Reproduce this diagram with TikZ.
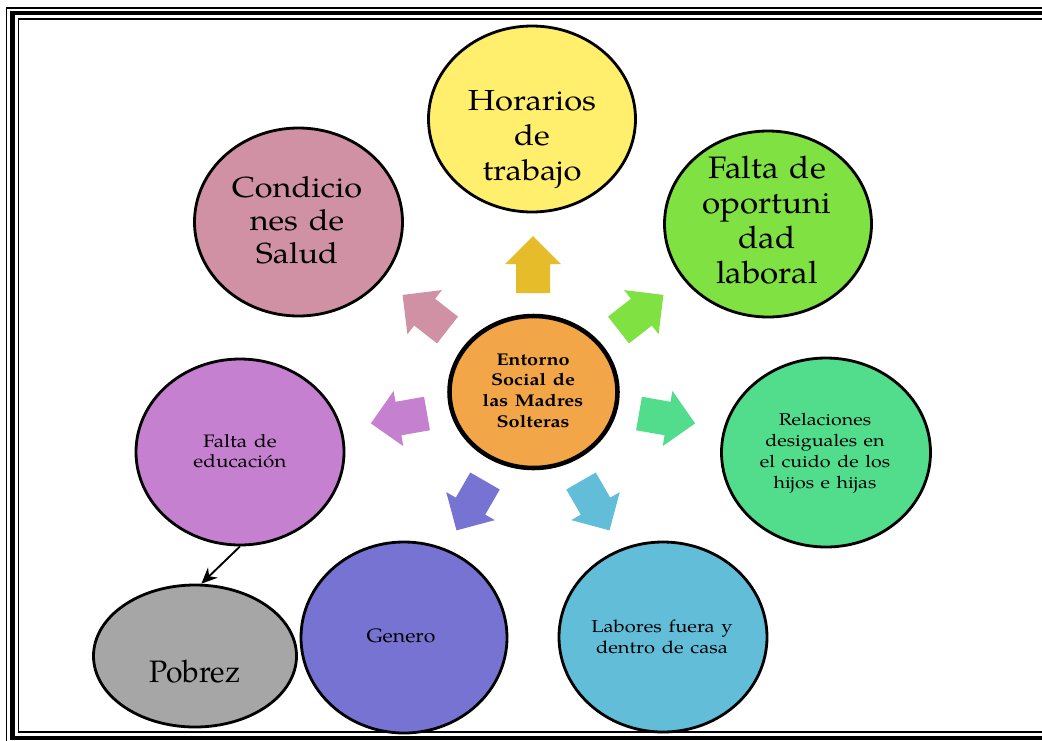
\documentclass[tikz,border=0pt]{standalone}
\usepackage{fontspec}
\setmainfont{TeX Gyre Pagella}
\usetikzlibrary{shapes.geometric,arrows.meta}
\definecolor{cYel}{HTML}{FFEF6C}
\definecolor{cYelA}{HTML}{E6BC2A}
\definecolor{cPink}{HTML}{D091A5}
\definecolor{cGreen}{HTML}{80E142}
\definecolor{cViolet}{HTML}{C580CF}
\definecolor{cTeal}{HTML}{52DD8C}
\definecolor{cBlue}{HTML}{7673D3}
\definecolor{cCyan}{HTML}{62BED8}
\definecolor{cGray}{HTML}{A6A6A6}
\definecolor{cOrange}{HTML}{F2A648}
\newcommand\blockarr[4]{%
  \begin{scope}[shift={(#1,#2)},rotate=#3]
    \fill[#4] (0,-17) -- (29,-17) -- (29,-28) -- (57,0) -- (29,28) -- (29,17) -- (0,17) -- cycle;
  \end{scope}}
% stretched text: x, y (first baseline), xscale, options, text
\newcommand\stxt[5]{%
  \begin{scope}[shift={(#1,#2)},xscale=#3]
    \node[lbl,transform shape,#4] at (0,0) {#5};
  \end{scope}}
\newcommand\fsz[2]{\fontsize{#1}{#2}\selectfont}
\tikzset{
  bubble/.style 2 args={ellipse, draw=black, line width=2.1pt, inner sep=0pt,
    minimum width=#1*0.75pt, minimum height=#2*0.75pt},
  lbl/.style={anchor=base, text width=220pt, align=center, inner sep=0pt, text=black},
  conn/.style={line width=1.4pt, -{Stealth[length=12pt,width=10.5pt]}}
}
\begin{document}
\begin{tikzpicture}[x=0.75pt,y=-0.75pt]
\useasboundingbox (0,0) rectangle (1042,740);
\fill[white] (0,0) rectangle (1042,740);
% frame
\begin{scope}
  \clip (0,0) rectangle (1042,740);
  \draw[line width=0.9pt] (6.5,8) rectangle (1070,770);
  \draw[line width=3.4pt] (12.5,13) rectangle (1065,738);
  \draw[line width=1.1pt] (18.5,19) rectangle (1060,732);
\end{scope}
% bubbles
\node[bubble={207}{186}, fill=cYel] (hor) at (532,119) {};
\node[bubble={208}{188}, fill=cPink] (cond) at (298.5,222) {};
\node[bubble={207}{186}, fill=cGreen] (opo) at (768,224) {};
\node[bubble={209}{189}, fill=cTeal] (rel) at (826,452.5) {};
\node[bubble={208}{186}, fill=cViolet] (edu) at (240,452) {};
\node[bubble={206}{191}, fill=cBlue] (gen) at (404,637.5) {};
\node[bubble={208}{190}, fill=cCyan] (lab) at (663,637) {};
\node[bubble={203}{142}, fill=cGray] (pob) at (195,656) {};
\node[ellipse, draw=black, line width=3.4pt, inner sep=0pt, minimum width=168*0.75pt, minimum height=152*0.75pt, fill=cOrange] (cen) at (533.5,392) {};
% block arrows
\blockarr{533}{293}{90}{cYelA}
\blockarr{447.5}{330}{142}{cPink}
\blockarr{618.5}{330}{38}{cGreen}
\blockarr{427}{413.5}{190}{cViolet}
\blockarr{639}{413.5}{-10}{cTeal}
\blockarr{485}{481}{240}{cBlue}
\blockarr{581}{481}{300}{cCyan}
% connector
\draw[conn] (edu.south) -- (pob.85);
% texts
\stxt{532}{110}{1.13}{name=tHor, font=\fsz{21.75pt}{26.25pt}}{Horarios\\de\\trabajo}
\stxt{297}{197}{1.12}{name=tCond, font=\fsz{21.75pt}{24.75pt}}{Condicio\\nes de\\Salud}
\stxt{767}{178}{1.07}{name=tOpo, font=\fsz{23.25pt}{26.25pt}}{Falta de\\oportuni\\dad\\laboral}
\stxt{825}{425}{1.16}{name=tRel, font=\fsz{12.75pt}{15.75pt}}{Relaciones\\desiguales en\\el cuido de los\\hijos e hijas}
\stxt{240}{447}{1.15}{name=tEdu, font=\fsz{13.5pt}{15.3pt}}{Falta de\\educación}
\stxt{401}{642}{1.1}{name=tGen, font=\fsz{14.5pt}{16pt}}{Genero}
\stxt{662}{632}{1.16}{name=tLab, font=\fsz{13pt}{15.75pt}}{Labores fuera y\\dentro de casa}
\stxt{195}{682}{0.97}{name=tPob, font=\fsz{23.25pt}{26.25pt}}{Pobrez}
\stxt{533}{365}{1.17}{name=tCen, font=\bfseries\fsz{12.75pt}{15.5pt}}{Entorno\\Social de\\las Madres\\Solteras}
\end{tikzpicture}
\end{document}
